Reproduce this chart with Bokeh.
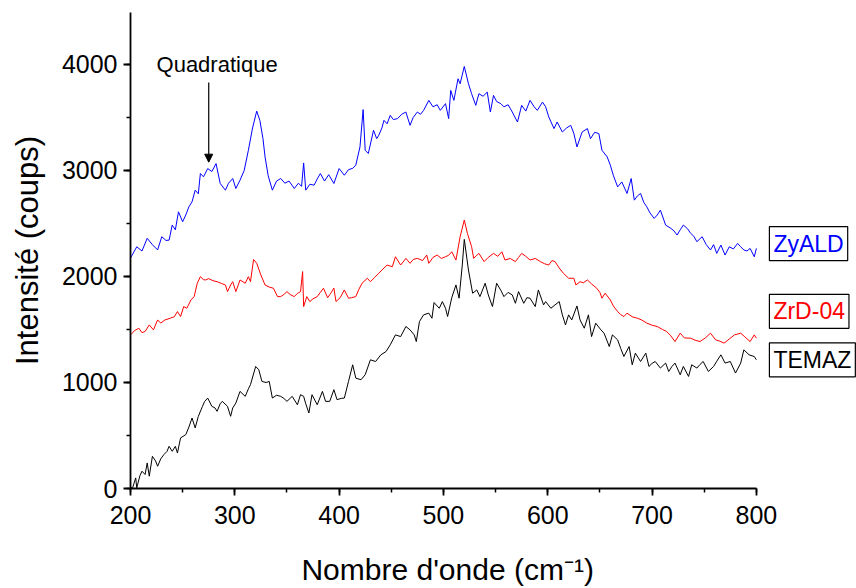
from bokeh.plotting import figure
from bokeh.models import Range1d, Label, Arrow, NormalHead, FixedTicker
from bokeh.embed import file_html
from bokeh.resources import INLINE

# ---- data ----
zyald_x = [200,206,211,216,221,226,230,234,237,240,243,246,250,253,256,259,262,265,267,270,274,278,282,286,291,294,298,301,305,309,313,317,321,324,327,329,332,336,340,344,348,352,357,361,364,366,368,372,376,379,382,386,390,395,400,405,409,413,416,420,423,425,428,433,436,438,441,443,446,449,452,456,460,464,468,471,475,478,481,486,490,494,497,502,505,507,510,514,516,520,524,527,531,534,538,542,545,548,551,555,558,562,566,571,575,579,583,587,590,595,598,601,606,609,614,618,622,625,628,633,638,641,645,649,652,657,660,663,667,671,676,680,683,686,689,692,695,698,702,705,708,713,718,721,724,727,730,734,737,740,743,748,752,756,759,762,766,770,774,778,782,785,788,791,794,798,800]
zyald_y = [2174,2280,2240,2360,2300,2250,2375,2340,2343,2485,2440,2610,2516,2580,2657,2704,2814,2780,2971,2940,3018,2990,3065,2877,2814,2880,2924,2830,2908,3000,3190,3400,3560,3473,3300,3128,2950,2814,2900,2924,2880,2900,2830,2880,2850,3071,2814,2870,2861,2920,2971,2900,2960,2877,3018,2955,3008,3020,3050,3222,3574,3190,3160,3379,3300,3332,3400,3473,3440,3520,3480,3489,3530,3551,3426,3500,3551,3530,3567,3661,3600,3620,3567,3630,3489,3755,3661,3865,3818,3981,3818,3724,3614,3724,3700,3739,3551,3708,3650,3630,3600,3620,3551,3457,3614,3560,3661,3600,3567,3645,3600,3504,3395,3457,3363,3400,3426,3350,3222,3363,3395,3300,3360,3348,3190,3128,3050,2950,2845,2892,2783,2924,2720,2760,2783,2700,2657,2600,2548,2580,2626,2485,2454,2430,2391,2440,2485,2450,2407,2380,2328,2375,2300,2250,2300,2218,2296,2202,2280,2260,2312,2280,2250,2240,2265,2186,2265]

zrd_x = [200,204,208,211,214,218,222,226,229,233,238,242,245,248,251,254,258,261,264,267,270,272,275,279,283,287,291,293,296,298,301,305,310,313,315,318,321,325,329,333,337,341,344,347,350,353,357,360,363,365,366,369,372,375,379,382,385,389,392,395,397,401,405,409,412,416,419,422,427,430,434,438,442,446,451,454,459,464,468,471,475,480,484,486,490,494,498,502,505,508,512,516,520,523,527,529,532,534,539,543,548,552,556,559,564,569,572,575,579,583,588,593,597,601,604,607,611,615,620,625,627,631,634,638,642,647,650,652,655,660,663,667,670,673,676,681,686,690,695,700,705,710,714,718,722,727,731,737,741,746,751,756,761,765,769,774,779,785,789,794,798,800]
zrd_y = [1449,1490,1512,1470,1481,1543,1496,1590,1560,1590,1606,1620,1669,1622,1716,1700,1779,1810,1936,1998,1970,1967,1980,1960,1951,1935,1920,1857,1920,1951,1857,1967,1936,1998,1951,2160,2124,2014,1920,1900,1889,1810,1810,1830,1857,1830,1810,1840,1857,2046,1716,1810,1763,1790,1810,1850,1889,1800,1842,1890,1763,1800,1873,1795,1800,1810,1880,1936,1983,1951,1990,2030,2070,2108,2092,2186,2108,2171,2124,2160,2171,2150,2202,2124,2180,2202,2170,2186,2200,2233,2155,2375,2532,2406,2281,2171,2200,2218,2140,2180,2218,2190,2233,2155,2170,2140,2180,2218,2190,2155,2170,2140,2120,2108,2150,2140,2080,2030,1983,1983,1920,1951,1940,1967,1930,1889,1850,1795,1842,1779,1720,1669,1640,1622,1654,1620,1606,1590,1560,1540,1528,1500,1481,1440,1386,1465,1420,1418,1400,1386,1420,1465,1402,1390,1371,1410,1449,1465,1430,1386,1449,1418]

temaz_x = [200,202,205,206,209,211,214,216,218,221,224,226,229,232,235,237,240,243,245,248,253,256,259,262,265,269,271,274,278,281,283,286,288,293,296,298,301,305,310,313,315,320,323,326,330,333,336,340,344,347,350,355,360,363,366,368,371,374,379,384,387,391,395,398,402,405,409,413,416,421,425,430,435,440,445,449,454,459,464,468,472,474,477,481,486,489,491,496,499,502,504,508,512,515,518,520,524,528,532,535,540,543,547,551,555,558,562,566,569,572,577,580,583,588,591,596,598,603,607,611,614,617,620,623,628,631,635,639,642,646,651,654,659,662,667,670,673,678,681,684,689,694,697,700,703,708,713,716,719,722,727,730,735,738,743,746,749,754,759,762,766,770,775,780,785,788,793,798,800]
temaz_y = [6,6,100,6,120,163,132,241,116,304,260,210,280,320,350,398,351,398,335,477,508,580,665,571,680,775,820,853,775,760,728,800,822,775,681,760,806,916,869,940,979,1151,1120,1010,1000,1010,853,880,869,850,822,869,790,885,869,800,712,885,790,916,822,822,932,838,850,853,1010,1167,1041,1026,1073,1214,1198,1261,1292,1355,1449,1433,1528,1496,1449,1386,1575,1638,1654,1606,1754,1700,1763,1700,1622,1800,1920,1795,2100,2350,2061,1842,1873,1810,1936,1826,1716,1936,1870,1810,1850,1826,1747,1857,1747,1800,1795,1716,1873,1732,1763,1700,1732,1763,1638,1543,1638,1590,1722,1590,1512,1638,1433,1559,1496,1465,1339,1449,1402,1320,1245,1339,1167,1277,1198,1277,1151,1180,1198,1136,1183,1104,1150,1183,1073,1151,1057,1167,1136,1170,1198,1104,1151,1200,1261,1183,1198,1089,1183,1308,1261,1245,1214]

series_names = ["ZyALD", "ZrD-04", "TEMAZ"]
series_colors = ["#0000ff", "#ff0000", "#000000"]
label_y = [2310, 1671, 1214]

x_ticks = [200, 300, 400, 500, 600, 700, 800]
y_ticks = [0, 1000, 2000, 3000, 4000]

annot_text = "Quadratique"
annot_x = 275
annot_text_x = 283
annot_text_y = 4000
annot_start_y = 3830
annot_end_y = 3078

FONT = "Liberation Sans"

p = figure(width=856, height=588, output_backend="svg", toolbar_location=None,
           x_range=Range1d(200, 896), y_range=Range1d(0, 4490),
           min_border_left=130, min_border_right=0, min_border_top=12, min_border_bottom=99)
p.outline_line_color = None
p.grid.visible = False
p.background_fill_color = "white"

for xs, ys, c in zip([zyald_x, zrd_x, temaz_x], [zyald_y, zrd_y, temaz_y], series_colors):
    p.line(xs, ys, line_color=c, line_width=1.0)

for ax in (p.xaxis[0], p.yaxis[0]):
    ax.axis_line_width = 1.8
    ax.major_tick_line_width = 1.8
    ax.minor_tick_line_width = 1.5
    ax.major_tick_in = 0
    ax.major_tick_out = 7
    ax.minor_tick_in = 0
    ax.minor_tick_out = 4
    ax.major_label_text_font = FONT
    ax.major_label_text_font_size = "25px"
    ax.major_label_text_color = "black"
    ax.axis_label_text_font = FONT
    ax.axis_label_text_font_size = "30px"
    ax.axis_label_text_font_style = "normal"
    ax.axis_label_text_color = "black"

p.xaxis.bounds = (200, 800)
p.xaxis.ticker = FixedTicker(ticks=x_ticks, minor_ticks=list(range(200, 801, 50)))
p.yaxis.ticker = FixedTicker(ticks=y_ticks, minor_ticks=list(range(0, 4490, 500)))
p.xaxis.major_label_standoff = 10
p.yaxis.major_label_standoff = 6
# trailing no-break spaces centre the title under the drawn axis (200-800)
p.xaxis.axis_label = "Nombre d'onde (cm\u207b\u00b9)" + "\u00a0" * 11
p.yaxis.axis_label = "Intensité (coups)"
p.yaxis.axis_label_text_font_size = "31px"
p.xaxis.axis_label_standoff = 26
p.yaxis.axis_label_standoff = 14

p.add_layout(Label(x=annot_text_x, y=annot_text_y, text=annot_text, text_font=FONT,
                   text_color="black", text_font_size="22px",
                   text_align="center", text_baseline="middle"))
p.add_layout(Arrow(end=NormalHead(size=8, fill_color="black", line_color="black"),
                   x_start=annot_x, y_start=annot_start_y, x_end=annot_x, y_end=annot_end_y,
                   line_width=1.2, line_color="black"))

for name, c, ly in zip(series_names, series_colors, label_y):
    p.add_layout(Label(x=812.5, y=ly, text=name, text_color=c, text_font=FONT,
                       text_font_size="23px", text_baseline="middle", text_align="left",
                       border_line_color="black", border_line_width=1.2,
                       background_fill_color="white", padding=4))

open("out.html", "w").write(file_html(p, INLINE))
